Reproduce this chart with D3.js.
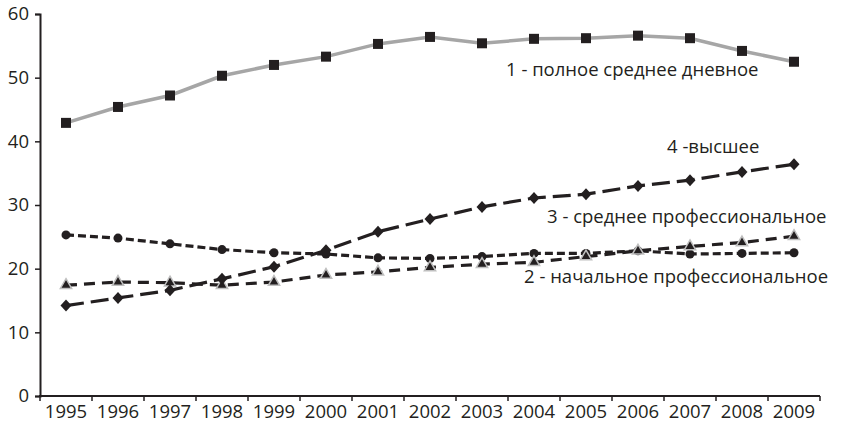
<!DOCTYPE html>
<html><head><meta charset="utf-8">
<script src="https://cdn.jsdelivr.net/npm/d3@7"></script>
<style>body{margin:0;background:#fff}svg{display:block}text{font-family:"Open Sans",sans-serif;fill:#231f20}</style>
</head><body>
<svg id="c" width="842" height="424"></svg>
<script>
const years = ["1995","1996","1997","1998","1999","2000","2001","2002","2003","2004","2005","2006","2007","2008","2009"];
const yTicks = [0,10,20,30,40,50,60];
const s1 = [42.9,45.4,47.2,50.3,52.0,53.3,55.3,56.4,55.4,56.1,56.2,56.6,56.2,54.2,52.5];
const s2 = [17.4,17.9,17.8,17.4,17.9,19.0,19.5,20.2,20.7,21.0,21.9,22.8,23.5,24.1,25.1];
const s3 = [25.3,24.8,23.9,23.0,22.5,22.3,21.7,21.6,21.9,22.4,22.4,22.8,22.3,22.4,22.5];
const s4 = [14.2,15.4,16.6,18.4,20.3,22.9,25.8,27.8,29.7,31.1,31.7,33.0,33.9,35.2,36.4];
const labels = ["1 - полное среднее дневное","2 - начальное профессиональное","3 - среднее профессиональное","4 -высшее"];

const svg = d3.select("#c");
const L = 40, R = 820, T = 14, B = 396;
const x = d3.scaleBand().domain(years).range([L, R]);
const y = d3.scaleLinear().domain([0, 60]).range([B, T]);
const cx = d => x(d) + x.bandwidth()/2;
const FS = "18.5px";

// axes
const ya = svg.append("g").attr("transform", `translate(${L},0)`)
  .call(d3.axisLeft(y).tickValues(yTicks).tickSize(5).tickPadding(6));
ya.select(".domain").attr("stroke","#231f20").attr("stroke-width",2);
ya.selectAll(".tick line").attr("stroke","#231f20").attr("stroke-width",1.5);
ya.selectAll(".tick text").style("font-size",FS).attr("fill","#231f20");

const xa = svg.append("g").attr("transform", `translate(0,${B})`)
  .call(d3.axisBottom(x).tickSize(0).tickPadding(9));
xa.select(".domain").remove();
xa.selectAll(".tick text").style("font-size",FS).attr("fill","#231f20").attr("dy","0.71em");
svg.append("line").attr("x1",L-1).attr("x2",R).attr("y1",B).attr("y2",B).attr("stroke","#231f20").attr("stroke-width",2);
svg.append("g").selectAll("line").data(d3.range(years.length+1)).join("line")
  .attr("x1",i=>L+i*x.bandwidth()).attr("x2",i=>L+i*x.bandwidth())
  .attr("y1",B).attr("y2",B+5).attr("stroke","#231f20").attr("stroke-width",1.5);

const line = d3.line().x((d,i)=>cx(years[i])).y(d=>y(d));

// series 1
svg.append("path").attr("d", line(s1)).attr("fill","none").attr("stroke","#a6a6a6").attr("stroke-width",3.5);
svg.append("g").selectAll("rect").data(s1).join("rect")
  .attr("x",(d,i)=>cx(years[i])-5).attr("y",d=>y(d)-5).attr("width",10).attr("height",10).attr("fill","#231f20");

// series 3 (circles, short dash)
svg.append("path").attr("d", line(s3)).attr("fill","none").attr("stroke","#231f20").attr("stroke-width",3.2).attr("stroke-dasharray","8,4");
svg.append("g").selectAll("circle").data(s3).join("circle")
  .attr("cx",(d,i)=>cx(years[i])).attr("cy",d=>y(d)).attr("r",4.5).attr("fill","#231f20");

// series 2 (triangles, medium dash)
svg.append("path").attr("d", line(s2)).attr("fill","none").attr("stroke","#231f20").attr("stroke-width",3.2).attr("stroke-dasharray","11,7");
const tri = d3.symbol().type(d3.symbolTriangle).size(55);
svg.append("g").selectAll("path").data(s2).join("path")
  .attr("d",tri).attr("transform",(d,i)=>`translate(${cx(years[i])},${y(d)})`)
  .attr("fill","#231f20").attr("stroke","#bfbfbf").attr("stroke-width",1.5);

// series 4 (diamonds, long dash)
svg.append("path").attr("d", line(s4)).attr("fill","none").attr("stroke","#231f20").attr("stroke-width",3.2).attr("stroke-dasharray","18,7");
svg.append("g").selectAll("path").data(s4).join("path")
  .attr("d","M0,-6L5.5,0L0,6L-5.5,0Z").attr("transform",(d,i)=>`translate(${cx(years[i])},${y(d)})`)
  .attr("fill","#231f20");

// labels
const lab = [[506,76,labels[0]],[524,283,labels[1]],[547,223,labels[2]],[667,153,labels[3]]];
svg.append("g").selectAll("text").data(lab).join("text")
  .attr("x",d=>d[0]).attr("y",d=>d[1]).text(d=>d[2]).style("font-size",FS);
</script>
</body></html>
